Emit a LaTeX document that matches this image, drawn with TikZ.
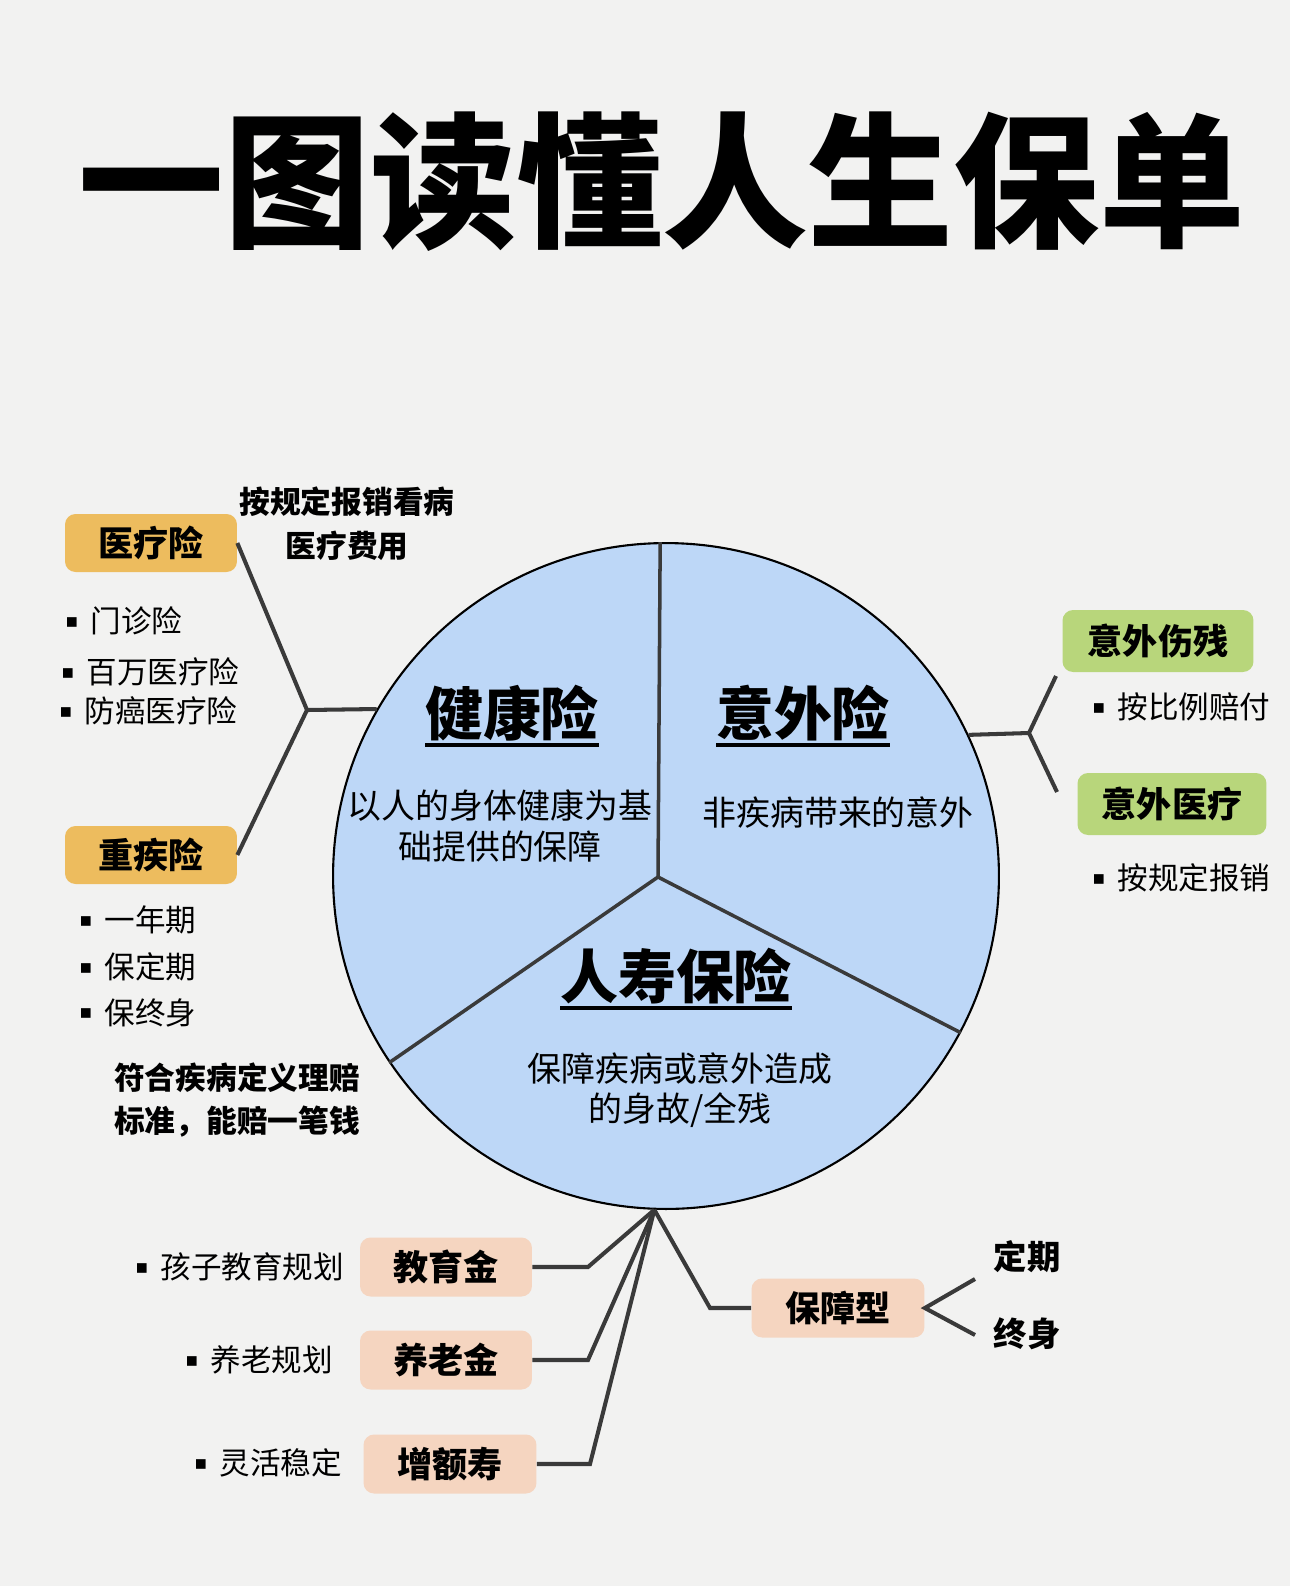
\documentclass[tikz,border=0pt]{standalone}
\usepackage{fontspec}
\setmainfont{Noto Sans CJK SC}
\newfontfamily\heavy{Noto Sans CJK SC Black}
\newfontfamily\symf{DejaVu Sans}
\definecolor{bggray}{HTML}{F2F2F1}
\definecolor{pieblue}{HTML}{BDD7F7}
\definecolor{medorange}{HTML}{EDBC5E}
\definecolor{accgreen}{HTML}{B8D67B}
\definecolor{lifepeach}{HTML}{F5D5C0}
\definecolor{linegray}{HTML}{3A3A3A}
\newcommand\sq{\raisebox{3.2pt}{\symf\fontsize{11}{11}\selectfont\char"25AA}\hspace{0.4em}}
\newcommand\hul[1]{\setbox0\hbox{#1}\rlap{\copy0}\rule[-0.2em]{\wd0}{0.07em}}

\begin{document}
\begin{tikzpicture}[x=0.02cm,y=-0.02cm,
    link/.style={draw=linegray,line width=2.3pt},
    divider/.style={draw=linegray,line width=2pt},
    tag/.style={rounded corners=6pt,inner sep=0pt,minimum width=3.44cm,minimum height=1.16cm,font=\heavy\fontsize{20}{24}\selectfont},
    medtag/.style={tag,fill=medorange},
    acctag/.style={tag,fill=accgreen,minimum width=3.82cm,minimum height=1.24cm},
    lifetag/.style={tag,fill=lifepeach,minimum width=3.44cm,minimum height=1.18cm},
    item/.style={anchor=west,inner sep=0pt,font=\fontsize{17.4}{20}\selectfont},
    note/.style={inner sep=0pt,align=center,font=\bfseries\fontsize{17.5}{25}\selectfont},
    head/.style={inner sep=0pt,font=\heavy\fontsize{33}{36}\selectfont},
    body/.style={inner sep=0pt,align=center,font=\fontsize{19.3}{23}\selectfont}]

    \fill[bggray] (0,0) rectangle (1290,1586);
    \node[inner sep=0pt,font=\heavy\fontsize{83}{90}\selectfont] (title) at (662,182) {一图读懂人生保单};

    % the pie
    \node[circle,draw=black,line width=1.2pt,fill=pieblue,minimum size=13.32cm,inner sep=0pt] (pie) at (666,876) {};
    \coordinate (mid) at (658,877);
    \draw[divider] (mid) -- (pie.91);
    \draw[divider] (mid) -- (pie.214);
    \draw[divider] (mid) -- (pie.332);
    \node[head] (hhealth) at (512,716) {\hul{健康险}};
    \node[head] (hacc) at (803,716) {\hul{意外险}};
    \node[head] (hlife) at (676,979) {\hul{人寿保险}};
    \node[body] (dhealth) at (500,826) {以人的身体健康为基\\础提供的保障};
    \node[body] (dacc) at (838,813) {非疾病带来的意外};
    \node[body] (dlife) at (680,1090) {保障疾病或意外造成\\的身故/全残};

    % left: health
    \node[medtag] (med) at (151,543) {医疗险};
    \node[medtag] (crit) at (151,855) {重疾险};
    \node[note] (mednote) at (347,524) {按规定报销看病\\医疗费用};
    \node[item] (i1) at (65,621) {\sq 门诊险};
    \node[item] (i2) at (61,672) {\sq 百万医疗险};
    \node[item] (i3) at (59,711) {\sq 防癌医疗险};
    \node[item] (c1) at (79,920) {\sq 一年期};
    \node[item] (c2) at (79,967) {\sq 保定期};
    \node[item] (c3) at (79,1013) {\sq 保终身};
    \node[note,align=left] (critnote) at (237,1100) {符合疾病定义理赔\\标准，能赔一笔钱};
    \coordinate (jl) at (307,710);
    \draw[link] (med.east) -- (jl) -- (crit.east);
    \draw[link] (jl) -- (pie.150);

    % right: accident
    \node[acctag] (dis) at (1158,641) {意外伤残};
    \node[acctag,minimum width=3.78cm] (accmed) at (1172,804) {意外医疗};
    \node[item] (a1) at (1092,707) {\sq 按比例赔付};
    \node[item] (a2) at (1092,878) {\sq 按规定报销};
    \coordinate (jr) at (1029,733);
    \coordinate (jru) at (1056,676);
    \coordinate (jrd) at (1057,792);
    \draw[link] (pie.25) -- (jr);
    \draw[link] (jru) -- (jr) -- (jrd);

    % bottom: life
    \coordinate (hub) at (pie.268);
    \node[lifetag] (edu) at (446,1267) {教育金};
    \node[lifetag] (pen) at (446,1360) {养老金};
    \node[lifetag,minimum width=3.46cm] (inc) at (450,1464) {增额寿};
    \node[lifetag,minimum width=3.46cm] (prot) at (838,1308) {保障型};
    \node[item] (b1) at (135,1267) {\sq 孩子教育规划};
    \node[item] (b2) at (185,1360) {\sq 养老规划};
    \node[item] (b3) at (194,1463) {\sq 灵活稳定};
    \coordinate (e1) at (588,1267);
    \coordinate (e2) at (588,1360);
    \coordinate (e3) at (590,1464);
    \coordinate (e4) at (710,1308);
    \draw[link] (hub) -- (e1) -- (edu.east);
    \draw[link] (hub) -- (e2) -- (pen.east);
    \draw[link] (hub) -- (e3) -- (inc.east);
    \draw[link] (hub) -- (e4) -- (prot.west);
    \coordinate (t1) at (975,1279);
    \coordinate (t2) at (975,1335);
    \draw[link] (t1) -- (prot.east) -- (t2);
    \node[note,font=\bfseries\fontsize{19}{22}\selectfont] (term) at (1027,1257) {定期};
    \node[note,font=\bfseries\fontsize{19}{22}\selectfont] (whole) at (1027,1334) {终身};
\end{tikzpicture}
\end{document}
